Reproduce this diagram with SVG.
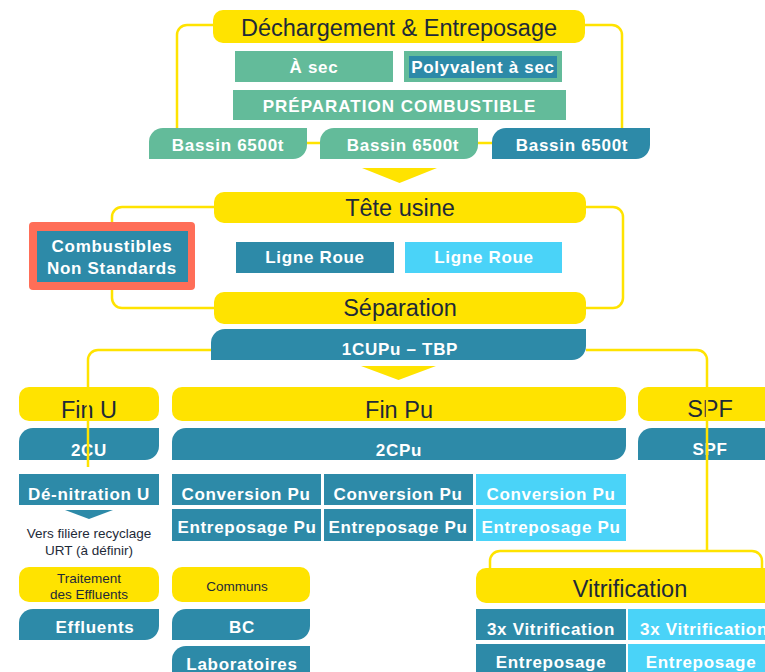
<svg xmlns="http://www.w3.org/2000/svg" width="765" height="672" viewBox="0 0 765 672">
<style>
.y{fill:#FFE300}
.t{fill:#2D8AA8}
.l{fill:#4AD3F8}
.g{fill:#63BB9A}
.ttl{font-family:"Liberation Sans",Arial,sans-serif;font-size:23.5px;fill:#1E2A38;text-anchor:middle}
.w{font-family:"Liberation Sans",Arial,sans-serif;font-size:17px;font-weight:bold;fill:#FFFFFF;text-anchor:middle;letter-spacing:0.7px}
.s{font-family:"Liberation Sans",Arial,sans-serif;font-size:13.5px;fill:#1E2A38;text-anchor:middle}
.c{fill:none;stroke:#FFE300;stroke-width:2.5}
</style>
<rect width="765" height="672" fill="#FFFFFF"/>

<g id="connectors">
<path class="c" d="M213 25 H187 A10 10 0 0 0 177 35 V128"/>
<path class="c" d="M585 25 H612 A10 10 0 0 1 622 35 V128"/>
<path class="c" d="M307 143 H320 M478 143 H492"/>
<path class="c" d="M214 207 H122 A10 10 0 0 0 112 217 V298 A10 10 0 0 0 122 308 H214"/>
<path class="c" d="M586 207 H613 A10 10 0 0 1 623 217 V298 A10 10 0 0 1 613 308 H586"/>
<path class="c" d="M490 568 V561 A10 10 0 0 1 500 551 H752 A10 10 0 0 1 762 561 V568"/>
<polygon class="y" points="362,168 437,168 399.5,183"/>
<polygon class="y" points="361,366 436,366 398.5,380"/>
<polygon class="t" points="65,510 113,510 89,519"/>
</g>

<g id="dechargement">
<rect class="y" x="213" y="10" width="372" height="33" rx="10"/>
<text class="ttl" x="399" y="36">Déchargement &amp; Entreposage</text>
</g>
<g id="asec">
<rect class="g" x="235" y="51" width="158" height="31"/>
<text class="w" x="314" y="73">À sec</text>
</g>
<g id="polyvalent">
<rect class="g" x="404" y="51" width="158" height="31"/>
<rect class="t" x="409" y="56" width="148" height="22"/>
<text class="w" x="483" y="73">Polyvalent à sec</text>
</g>
<g id="preparation">
<rect class="g" x="233" y="90" width="333" height="30"/>
<text class="w" x="399.5" y="112" style="letter-spacing:1px">PRÉPARATION COMBUSTIBLE</text>
</g>
<g id="bassin1">
<path class="g" d="M149 159 V142 A14 14 0 0 1 163 128 H307 V145 A14 14 0 0 1 293 159 Z"/>
<text class="w" x="228" y="151">Bassin 6500t</text>
</g>
<g id="bassin2">
<path class="g" d="M320 159 V142 A14 14 0 0 1 334 128 H478 V145 A14 14 0 0 1 464 159 Z"/>
<text class="w" x="403" y="151">Bassin 6500t</text>
</g>
<g id="bassin3">
<path class="t" d="M492 159 V142 A14 14 0 0 1 506 128 H650 V145 A14 14 0 0 1 636 159 Z"/>
<text class="w" x="572" y="151">Bassin 6500t</text>
</g>

<g id="tete">
<rect class="y" x="214" y="192" width="372" height="31" rx="10"/>
<text class="ttl" x="400" y="216">Tête usine</text>
</g>
<g id="combustibles">
<rect x="29" y="222" width="166" height="68" rx="4" fill="#FF6E58"/>
<rect class="t" x="37" y="231" width="151" height="51"/>
<text class="w" x="112" y="252">Combustibles</text>
<text class="w" x="112" y="274">Non Standards</text>
</g>
<g id="ligne1">
<rect class="t" x="236" y="242" width="158" height="31"/>
<text class="w" x="315" y="263">Ligne Roue</text>
</g>
<g id="ligne2">
<rect class="l" x="405" y="242" width="157" height="31"/>
<text class="w" x="484" y="263">Ligne Roue</text>
</g>
<g id="separation">
<rect class="y" x="214" y="292" width="372" height="32" rx="10"/>
<text class="ttl" x="400" y="316">Séparation</text>
</g>
<g id="cupu">
<path class="t" d="M211 360 V343 A14 14 0 0 1 225 329 H586 V346 A14 14 0 0 1 572 360 Z"/>
<text class="w" x="400" y="355">1CUPu – TBP</text>
</g>

<g id="finu">
<rect class="y" x="19" y="387" width="140" height="34" rx="10"/>
<text class="ttl" x="89" y="418">Fin U</text>
</g>
<g id="finpu">
<rect class="y" x="172" y="387" width="454" height="34" rx="10"/>
<text class="ttl" x="399" y="418">Fin Pu</text>
</g>
<g id="spf">
<rect class="y" x="638" y="387" width="150" height="34" rx="10"/>
<text class="ttl" x="710" y="417">SPF</text>
</g>
<g id="cu2">
<path class="t" d="M19 460 V442 A14 14 0 0 1 33 428 H159 V446 A14 14 0 0 1 145 460 Z"/>
<text class="w" x="89" y="456">2CU</text>
</g>
<g id="cpu2">
<path class="t" d="M172 460 V442 A14 14 0 0 1 186 428 H626 V446 A14 14 0 0 1 612 460 Z"/>
<text class="w" x="399" y="456">2CPu</text>
</g>
<g id="spf2">
<path class="t" d="M638 460 V442 A14 14 0 0 1 652 428 H780 V460 Z"/>
<text class="w" x="710" y="455">SPF</text>
</g>

<g id="denitration">
<rect class="t" x="19" y="474" width="140" height="31"/>
<text class="w" x="89" y="500">Dé-nitration U</text>
</g>
<g id="vers">
<text class="s" x="89" y="538">Vers filière recyclage</text>
<text class="s" x="89" y="555">URT (à définir)</text>
</g>
<g id="conv1">
<rect class="t" x="172" y="474" width="149" height="31"/>
<text class="w" x="246" y="500">Conversion Pu</text>
</g>
<g id="conv2">
<rect class="t" x="324" y="474" width="149" height="31"/>
<text class="w" x="398" y="500">Conversion Pu</text>
</g>
<g id="conv3">
<rect class="l" x="476" y="474" width="150" height="31"/>
<text class="w" x="551" y="500">Conversion Pu</text>
</g>
<g id="entpu1">
<rect class="t" x="172" y="509" width="149" height="32"/>
<text class="w" x="247" y="533">Entreposage Pu</text>
</g>
<g id="entpu2">
<rect class="t" x="324" y="509" width="149" height="32"/>
<text class="w" x="398" y="533">Entreposage Pu</text>
</g>
<g id="entpu3">
<rect class="l" x="476" y="509" width="150" height="32"/>
<text class="w" x="551" y="533">Entreposage Pu</text>
</g>

<g id="traitement">
<rect class="y" x="19" y="567" width="140" height="35" rx="10"/>
<text class="s" x="89" y="583">Traitement</text>
<text class="s" x="89" y="599">des Effluents</text>
</g>
<g id="communs">
<rect class="y" x="172" y="567" width="138" height="35" rx="10"/>
<text class="s" x="237" y="591">Communs</text>
</g>
<g id="effluents">
<path class="t" d="M19 640 V623 A14 14 0 0 1 33 609 H159 V626 A14 14 0 0 1 145 640 Z"/>
<text class="w" x="95" y="633">Effluents</text>
</g>
<g id="bc">
<path class="t" d="M172 640 V623 A14 14 0 0 1 186 609 H310 V626 A14 14 0 0 1 296 640 Z"/>
<text class="w" x="242" y="633">BC</text>
</g>
<g id="laboratoires">
<path class="t" d="M172 690 V660 A14 14 0 0 1 186 646 H310 V676 A14 14 0 0 1 296 690 Z"/>
<text class="w" x="242" y="670">Laboratoires</text>
</g>

<g id="vitrification">
<rect class="y" x="476" y="568" width="310" height="35" rx="10"/>
<text class="ttl" x="630" y="597">Vitrification</text>
</g>
<g id="vitrif1">
<rect class="t" x="476" y="609" width="150" height="31"/>
<text class="w" x="551" y="635">3x Vitrification</text>
</g>
<g id="vitrif2">
<rect class="l" x="628" y="609" width="140" height="31"/>
<text class="w" x="640" y="635" style="text-anchor:start">3x Vitrification</text>
</g>
<g id="entrep1">
<rect class="t" x="476" y="644" width="150" height="30"/>
<text class="w" x="551" y="668">Entreposage</text>
</g>
<g id="entrep2">
<rect class="l" x="628" y="644" width="140" height="30"/>
<text class="w" x="701" y="668">Entreposage</text>
</g>

<g id="connectors-over">
<path class="c" d="M211 350 H98 A10 10 0 0 0 88 360 V467"/>
<path class="c" d="M586 350 H697 A10 10 0 0 1 707 360 V551"/>
</g>
</svg>
